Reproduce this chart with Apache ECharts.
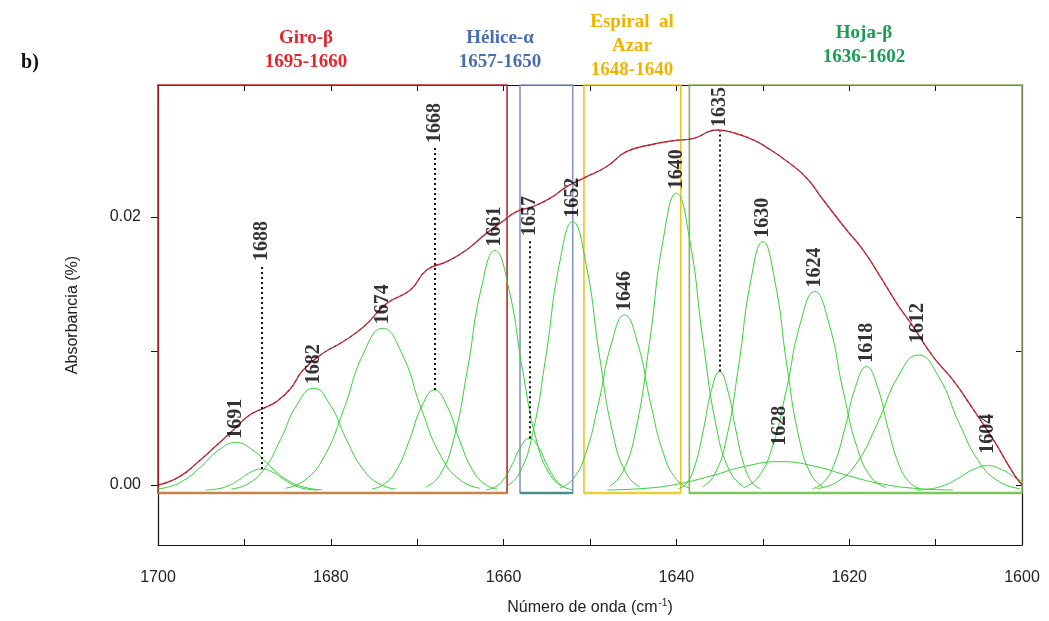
<!DOCTYPE html>
<html>
<head>
<meta charset="utf-8">
<script src="https://cdn.jsdelivr.net/npm/echarts@6/dist/echarts.min.js"></script>
<style>
  html, body { margin: 0; padding: 0; background: #ffffff; }
  #chart { width: 1049px; height: 621px; }
</style>
</head>
<body>
<div id="chart"></div>
<script>
// Measured amide I spectrum: wavenumber (cm-1) and absorbance
const spectrumX = [1700, 1697.5, 1695.1, 1693.6, 1691.3, 1689.4, 1687.8, 1686.3, 1684.7, 1683.2,
  1680.9, 1678.6, 1676.2, 1673.5, 1670.8, 1668.9, 1666.6, 1664.3, 1662.0, 1660.4,
  1658.5, 1656.6, 1654.6, 1652.7, 1650.4, 1648.1, 1645.8, 1643.1, 1640.4, 1638.0,
  1635.3, 1633.4, 1631.1, 1629.2, 1626.9, 1624.9, 1623.0, 1620.3, 1618.4, 1616.4,
  1614.5, 1612.6, 1610.3, 1608.0, 1605.6, 1603.3, 1601.0, 1600];
const spectrumY = [0.0000, 0.00062, 0.00187, 0.00274, 0.00410, 0.00522, 0.00572, 0.00622, 0.00716, 0.00858,
  0.00983, 0.01069, 0.01181, 0.01356, 0.01455, 0.01604, 0.01666, 0.01754, 0.01878, 0.01953,
  0.02040, 0.02077, 0.02140, 0.02226, 0.02301, 0.02375, 0.02487, 0.02537, 0.02569, 0.02587,
  0.02649, 0.02629, 0.02575, 0.02505, 0.02401, 0.02289, 0.02127, 0.01903, 0.01754, 0.01555,
  0.01356, 0.01181, 0.00958, 0.00784, 0.00560, 0.00336, 0.00087, 0.0000];

// Fitted component bands: peak wavenumber and sampled band profile
const bandPeaks = [1691, 1688, 1682, 1674, 1668, 1661, 1657, 1652, 1646, 1640, 1635, 1630, 1628, 1624, 1618, 1612, 1604];
const bandX = [
  [1681, 1683, 1685, 1687, 1689, 1691, 1693, 1695, 1697, 1699, 1701],
  [1681.5, 1682.8, 1684.1, 1685.4, 1686.7, 1688, 1689.3, 1690.6, 1691.9, 1693.2, 1694.5],
  [1672.5, 1674.4, 1676.3, 1678.2, 1680.1, 1682, 1683.9, 1685.8, 1687.7, 1689.6, 1691.5],
  [1662.75, 1665, 1667.25, 1669.5, 1671.75, 1674, 1676.25, 1678.5, 1680.75, 1683, 1685.25],
  [1660.75, 1662.2, 1663.65, 1665.1, 1666.55, 1668, 1669.45, 1670.9, 1672.35, 1673.8, 1675.25],
  [1653, 1654.6, 1656.2, 1657.8, 1659.4, 1661, 1662.6, 1664.2, 1665.8, 1667.4, 1669],
  [1652, 1653, 1654, 1655, 1656, 1657, 1658, 1659, 1660, 1661, 1662],
  [1644.25, 1645.8, 1647.35, 1648.9, 1650.45, 1652, 1653.55, 1655.1, 1656.65, 1658.2, 1659.75],
  [1638.5, 1640, 1641.5, 1643, 1644.5, 1646, 1647.5, 1649, 1650.5, 1652, 1653.5],
  [1632.25, 1633.8, 1635.35, 1636.9, 1638.45, 1640, 1641.55, 1643.1, 1644.65, 1646.2, 1647.75],
  [1630.25, 1631.2, 1632.15, 1633.1, 1634.05, 1635, 1635.95, 1636.9, 1637.85, 1638.8, 1639.75],
  [1623, 1624.4, 1625.8, 1627.2, 1628.6, 1630, 1631.4, 1632.8, 1634.2, 1635.6, 1637],
  [1608, 1612, 1616, 1620, 1624, 1628, 1632, 1636, 1640, 1644, 1648],
  [1615.75, 1617.4, 1619.05, 1620.7, 1622.35, 1624, 1625.65, 1627.3, 1628.95, 1630.6, 1632.25],
  [1611.75, 1613, 1614.25, 1615.5, 1616.75, 1618, 1619.25, 1620.5, 1621.75, 1623, 1624.25],
  [1600.25, 1602.6, 1604.95, 1607.3, 1609.65, 1612, 1614.35, 1616.7, 1619.05, 1621.4, 1623.75],
  [1595.75, 1597.4, 1599.05, 1600.7, 1602.35, 1604, 1605.65, 1607.3, 1608.95, 1610.6, 1612.25]
];
const bandY = [
  [-0.00035, -0.00018, 0.00035, 0.00138, 0.00259, 0.00316, 0.00259, 0.00138, 0.00035, -0.00018, -0.00035],
  [-0.00038, -0.00030, -0.00007, 0.00040, 0.00094, 0.00119, 0.00094, 0.00040, -0.00007, -0.00030, -0.00038],
  [-0.00030, 0.00008, 0.00120, 0.00341, 0.00601, 0.00722, 0.00601, 0.00341, 0.00120, 0.00008, -0.00030],
  [-0.00024, 0.00036, 0.00214, 0.00565, 0.00977, 0.01169, 0.00977, 0.00565, 0.00214, 0.00036, -0.00024],
  [-0.00030, 0.00007, 0.00117, 0.00335, 0.00590, 0.00709, 0.00590, 0.00335, 0.00117, 0.00007, -0.00030],
  [-0.00017, 0.00072, 0.00336, 0.00855, 0.01464, 0.01749, 0.01464, 0.00855, 0.00336, 0.00072, -0.00017],
  [-0.00035, -0.00016, 0.00042, 0.00154, 0.00286, 0.00348, 0.00286, 0.00154, 0.00042, -0.00016, -0.00035],
  [-0.00014, 0.00085, 0.00382, 0.00963, 0.01646, 0.01965, 0.01646, 0.00963, 0.00382, 0.00085, -0.00014],
  [-0.00023, 0.00042, 0.00235, 0.00615, 0.01061, 0.01269, 0.01061, 0.00615, 0.00235, 0.00042, -0.00023],
  [-0.00011, 0.00099, 0.00426, 0.01069, 0.01824, 0.02177, 0.01824, 0.01069, 0.00426, 0.00099, -0.00011],
  [-0.00028, 0.00015, 0.00146, 0.00403, 0.00705, 0.00846, 0.00705, 0.00403, 0.00146, 0.00015, -0.00028],
  [-0.00016, 0.00076, 0.00350, 0.00888, 0.01521, 0.01816, 0.01521, 0.00888, 0.00350, 0.00076, -0.00016],
  [-0.00037, -0.00027, 0.00005, 0.00067, 0.00140, 0.00174, 0.00140, 0.00067, 0.00005, -0.00027, -0.00037],
  [-0.00021, 0.00053, 0.00272, 0.00702, 0.01207, 0.01443, 0.01207, 0.00702, 0.00272, 0.00053, -0.00021],
  [-0.00028, 0.00018, 0.00154, 0.00422, 0.00736, 0.00883, 0.00736, 0.00422, 0.00154, 0.00018, -0.00028],
  [-0.00027, 0.00023, 0.00172, 0.00465, 0.00809, 0.00970, 0.00809, 0.00465, 0.00172, 0.00023, -0.00027],
  [-0.00038, -0.00029, -0.00001, 0.00052, 0.00115, 0.00144, 0.00115, 0.00052, -0.00001, -0.00029, -0.00038]
];

// Secondary-structure regions
const regionNames = ['Giro-β', 'Hélice-α', 'Espiral  al\nAzar', 'Hoja-β'];
const regionRanges = ['1695-1660', '1657-1650', '1648-1640', '1636-1602'];
const regionFrom = [1700, 1658.1, 1650.7, 1638.5];
const regionTo = [1659.6, 1652.0, 1639.5, 1600];

// Axis ticks
const xTickLabels = [1600, 1620, 1640, 1660, 1680, 1700];
const yTickValues = [0, 0.01, 0.02];
const yTickLabels = [0, 0.02];

// ---- layout and styling ----
const SERIF = "'Liberation Serif', 'Times New Roman', serif";
const SANS = "'Liberation Sans', Arial, sans-serif";
const Y_MIN = -0.00448, Y_MAX = 0.02985;
const BOX_BOTTOM = -0.0006;
const regionTextColors = ['#e3262d', '#4a6cb3', '#f0b400', '#1a9e55'];
const regionBoxColors = ['#c0282d', '#8797bd', '#f2c31b', '#8eb05a'];
const regionBottomColors = ['#c8844a', '#4f8c8c', '#e9cf3a', '#7cc85c'];
const regionTextPos = [[306, 50], [500, 50], [632, 46], [864, 45]];
// Dotted leaders: label raised to this absorbance
const leaderTop = { 1688: 0.01642, 1668: 0.02522, 1657: 0.01828, 1635: 0.02642 };
const labelShift = { 1612: [8, 0], 1628: [12, 0], 1604: [8, 0] };

const apex = bandY.map(ys => Math.max(...ys));

const bandSeries = bandPeaks.map((p, i) => ({
  type: 'line',
  name: 'Banda ' + p,
  data: bandX[i].map((x, j) => [x, bandY[i][j]]),
  smooth: true,
  showSymbol: false,
  silent: true,
  z: 3,
  lineStyle: { color: '#36d236', width: 1 }
}));

const regionSeries = {
  type: 'line',
  name: 'Regiones',
  data: [],
  silent: true,
  z: 2,
  markArea: {
    silent: true,
    data: regionFrom.map((f, i) => [
      { xAxis: f, yAxis: Y_MAX, itemStyle: { color: 'rgba(0,0,0,0)', borderColor: regionBoxColors[i], borderWidth: 1.6 } },
      { xAxis: regionTo[i], yAxis: BOX_BOTTOM }
    ])
  },
  markLine: {
    silent: true,
    symbol: 'none',
    label: { show: false },
    data: regionFrom.map((f, i) => [
      { coord: [f, BOX_BOTTOM], lineStyle: { color: regionBottomColors[i], width: 2.4, type: 'solid' } },
      { coord: [regionTo[i], BOX_BOTTOM] }
    ])
  }
};

const spectrumData = spectrumX.map((x, i) => [x, spectrumY[i]]);

const labelSeries = {
  type: 'scatter',
  name: 'Picos',
  symbolSize: 0,
  silent: true,
  z: 6,
  data: bandPeaks.map((p, i) => ({
    name: String(p),
    value: [p, leaderTop[p] !== undefined ? leaderTop[p] : apex[i]],
    label: labelShift[p] ? { offset: labelShift[p] } : undefined
  })),
  label: {
    show: true,
    formatter: '{b}',
    position: 'top',
    distance: 4,
    rotate: 90,
    align: 'left',
    verticalAlign: 'middle',
    color: '#000',
    fontFamily: SERIF,
    fontWeight: 'bold',
    fontSize: 20
  },
  markLine: {
    silent: true,
    symbol: 'none',
    label: { show: false },
    lineStyle: { color: '#111', type: [2, 3], width: 2 },
    data: bandPeaks
      .map((p, i) => ({ p, i }))
      .filter(d => leaderTop[d.p] !== undefined)
      .map(d => [{ coord: [d.p, apex[d.i]] }, { coord: [d.p, leaderTop[d.p]] }])
  }
};

const axisCommon = {
  type: 'value',
  min: 1600,
  max: 1700,
  interval: 10,
  inverse: true,
  splitLine: { show: false },
  axisLine: { show: true, onZero: false, lineStyle: { color: '#111', width: 1.2 } }
};

const option = {
  animation: false,
  backgroundColor: '#ffffff',
  grid: { left: 158, right: 27, top: 85, bottom: 76 },
  xAxis: [
    Object.assign({}, axisCommon, {
      position: 'bottom',
      name: 'Número de onda (cm{sup|-1})',
      nameLocation: 'middle',
      nameGap: 53,
      nameTextStyle: {
        fontFamily: SANS, fontSize: 16, color: '#222',
        rich: { sup: { fontFamily: SANS, fontSize: 10, color: '#222', padding: [0, 0, 9, 1] } }
      },
      axisTick: { show: true, inside: true, length: 6, lineStyle: { color: '#111' } },
      axisLabel: {
        customValues: xTickLabels, margin: 25,
        formatter: v => String(v),
        fontFamily: SANS, fontSize: 16, color: '#222'
      }
    }),
    Object.assign({}, axisCommon, {
      position: 'top',
      axisTick: { show: true, inside: true, length: 6, lineStyle: { color: '#111' } },
      axisLabel: { show: false }
    })
  ],
  yAxis: [
    {
      type: 'value',
      min: Y_MIN,
      max: Y_MAX,
      position: 'left',
      splitLine: { show: false },
      axisLine: { show: true, onZero: false, lineStyle: { color: '#111', width: 1.2 } },
      axisTick: { show: true, inside: false, length: 7, customValues: yTickValues, lineStyle: { color: '#111' } },
      axisLabel: {
        customValues: yTickLabels, margin: 17,
        formatter: v => v.toFixed(2),
        fontFamily: SANS, fontSize: 16, color: '#222'
      },
      name: 'Absorbancia (%)',
      nameLocation: 'middle',
      nameGap: 77,
      nameTextStyle: { fontFamily: SANS, fontSize: 16, color: '#222' }
    },
    {
      type: 'value',
      min: Y_MIN,
      max: Y_MAX,
      position: 'right',
      splitLine: { show: false },
      axisLine: { show: true, onZero: false, lineStyle: { color: '#111', width: 1.2 } },
      axisTick: { show: true, inside: true, length: 6, customValues: yTickValues, lineStyle: { color: '#111' } },
      axisLabel: { show: false }
    }
  ],
  graphic: [
    {
      type: 'text', x: 30, y: 63,
      style: { text: 'b)', fill: '#111', fontFamily: SERIF, fontWeight: 'bold', fontSize: 20, align: 'center', verticalAlign: 'middle' }
    }
  ].concat(regionNames.map((n, i) => ({
    type: 'text',
    x: regionTextPos[i][0],
    y: regionTextPos[i][1],
    style: {
      text: n + '\n' + regionRanges[i],
      fill: regionTextColors[i],
      fontFamily: SERIF,
      fontWeight: 'bold',
      fontSize: 19,
      lineHeight: 24,
      align: 'center',
      verticalAlign: 'middle'
    }
  }))),
  series: [regionSeries]
    .concat(bandSeries)
    .concat([
      {
        type: 'line', name: 'Ajuste', data: spectrumData, smooth: true, showSymbol: false, silent: true, z: 4,
        lineStyle: { color: '#d42a3a', width: 1.4 }
      },
      {
        type: 'line', name: 'Espectro', data: spectrumData, smooth: true, showSymbol: false, silent: true, z: 5,
        lineStyle: { color: '#333', width: 0.9, type: [2, 4] }
      },
      labelSeries
    ])
};

const chart = echarts.init(document.getElementById('chart'));
chart.setOption(option);
</script>
</body>
</html>
